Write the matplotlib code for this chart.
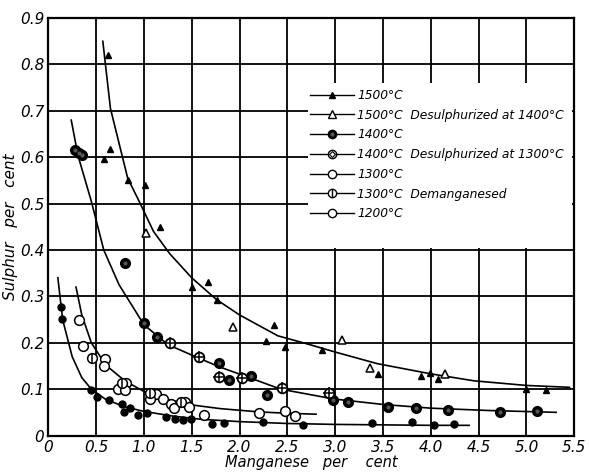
import matplotlib
matplotlib.use("Agg")
import matplotlib.pyplot as plt
from matplotlib.legend_handler import HandlerTuple
from matplotlib.patches import Rectangle

# ---- tick labels ----
x_ticks = [0, 0.5, 1.0, 1.5, 2.0, 2.5, 3.0, 3.5, 4.0, 4.5, 5.0, 5.5]
x_tick_labels = ["0", "0.5", "1.0", "1.5", "2.0", "2.5", "3.0", "3.5", "4.0", "4.5", "5.0", "5.5"]
y_ticks = [0, 0.1, 0.2, 0.3, 0.4, 0.5, 0.6, 0.7, 0.8, 0.9]
y_tick_labels = ["0", "0.1", "0.2", "0.3", "0.4", "0.5", "0.6", "0.7", "0.8", "0.9"]

# ---- data points (Mn %, S %) ----
mn_1500 = [0.62, 0.65, 0.58, 0.83, 1.01, 1.17, 1.50, 1.67, 1.76, 2.36, 2.28, 2.47, 2.86, 3.45, 3.90, 3.99, 4.07, 4.99, 5.20]
s_1500 = [0.82, 0.617, 0.596, 0.55, 0.54, 0.45, 0.321, 0.33, 0.293, 0.238, 0.203, 0.19, 0.185, 0.132, 0.129, 0.134, 0.122, 0.10, 0.099]

mn_1500_des = [1.02, 1.93, 3.07, 3.36, 4.15]
s_1500_des = [0.437, 0.234, 0.206, 0.146, 0.132]

mn_1400 = [0.28, 0.32, 0.35, 0.80, 1.00, 1.135, 1.78, 1.89, 2.12, 2.29, 2.98, 3.13, 3.55, 3.84, 4.18, 4.72, 5.11]
s_1400 = [0.615, 0.61, 0.605, 0.371, 0.242, 0.213, 0.157, 0.12, 0.128, 0.088, 0.077, 0.072, 0.061, 0.06, 0.056, 0.051, 0.053]

mn_1400_des = [1.27, 1.575, 1.78, 2.03, 2.44, 2.93]
s_1400_des = [0.20, 0.169, 0.126, 0.124, 0.102, 0.092]

mn_1300 = [0.324, 0.368, 0.595, 0.578, 0.73, 0.81, 0.807, 1.125, 1.06, 1.20, 1.287, 1.31, 1.43, 1.47, 1.625, 2.20, 2.47, 2.58]
s_1300 = [0.25, 0.194, 0.166, 0.15, 0.101, 0.113, 0.099, 0.089, 0.078, 0.078, 0.069, 0.059, 0.072, 0.062, 0.045, 0.049, 0.052, 0.042]

mn_1300_dem = [0.46, 0.766, 1.068, 1.39]
s_1300_dem = [0.168, 0.113, 0.091, 0.072]

mn_1200 = [0.128, 0.145, 0.443, 0.51, 0.635, 0.77, 0.855, 0.787, 0.94, 1.034, 1.236, 1.33, 1.405, 1.49, 1.71, 1.84, 2.25, 2.66, 3.39, 3.80, 4.03, 4.24]
s_1200 = [0.278, 0.252, 0.099, 0.083, 0.076, 0.069, 0.059, 0.051, 0.044, 0.049, 0.041, 0.035, 0.034, 0.036, 0.024, 0.026, 0.03, 0.022, 0.026, 0.03, 0.022, 0.024]

# ---- hand-drawn curves, points ----
curve_1500_x = [0.57, 0.65, 0.77, 0.83, 0.95, 1.10, 1.27, 1.50, 1.76, 2.00, 2.40, 2.70, 3.00, 3.44, 4.00, 4.45, 5.00, 5.45]
curve_1500_y = [0.85, 0.705, 0.605, 0.555, 0.505, 0.44, 0.392, 0.34, 0.293, 0.26, 0.215, 0.198, 0.18, 0.155, 0.133, 0.118, 0.108, 0.104]

curve_1400_x = [0.24, 0.31, 0.45, 0.58, 0.74, 1.00, 1.25, 1.55, 1.79, 2.10, 2.43, 2.98, 3.50, 4.00, 4.60, 5.31]
curve_1400_y = [0.68, 0.604, 0.505, 0.40, 0.325, 0.239, 0.196, 0.169, 0.148, 0.125, 0.10, 0.079, 0.067, 0.059, 0.054, 0.05]

curve_1300_x = [0.29, 0.35, 0.45, 0.60, 0.80, 1.00, 1.25, 1.50, 1.80, 2.20, 2.50, 2.80]
curve_1300_y = [0.32, 0.26, 0.20, 0.152, 0.118, 0.095, 0.078, 0.066, 0.058, 0.051, 0.048, 0.046]

curve_1200_x = [0.10, 0.15, 0.25, 0.35, 0.45, 0.60, 0.80, 1.00, 1.30, 1.60, 2.00, 2.50, 3.00, 3.50, 4.00, 4.40]
curve_1200_y = [0.34, 0.25, 0.17, 0.125, 0.10, 0.078, 0.062, 0.052, 0.042, 0.035, 0.03, 0.026, 0.024, 0.023, 0.022, 0.022]

legend_labels = ["1500\u00b0C", "1500\u00b0C  Desulphurized at 1400\u00b0C", "1400\u00b0C",
                 "1400\u00b0C  Desulphurized at 1300\u00b0C", "1300\u00b0C", "1300\u00b0C  Demanganesed", "1200\u00b0C"]

plt.rcParams["font.family"] = ["DejaVu Sans"]

fig = plt.figure(figsize=(5.89, 4.76), dpi=100)
ax = fig.add_axes([0.082, 0.085, 0.893, 0.877])

ax.set_xlim(0, 5.5)
ax.set_ylim(0, 0.9)
ax.set_xticks(x_ticks)
ax.set_xticklabels(x_tick_labels, fontstyle="italic", fontsize=11)
ax.set_yticks(y_ticks)
ax.set_yticklabels(y_tick_labels, fontstyle="italic", fontsize=11)
ax.tick_params(length=0, pad=3)
ax.grid(True, color="black", linewidth=1.3, zorder=0)
ax.set_axisbelow(True)
for sp in ax.spines.values():
    sp.set_linewidth(1.6)

# white area behind the legend (gridlines hidden there)
ax.add_patch(Rectangle((2.72, 0.405), 2.76, 0.355, facecolor="white", edgecolor="none", zorder=1))

lw = 1.2
for cx, cy in [(curve_1500_x, curve_1500_y), (curve_1400_x, curve_1400_y),
               (curve_1300_x, curve_1300_y), (curve_1200_x, curve_1200_y)]:
    ax.plot(cx, cy, color="black", linewidth=lw, zorder=3)

ax.plot(mn_1500, s_1500, linestyle="none", marker="^", markersize=5, color="black", zorder=4)
ax.plot(mn_1500_des, s_1500_des, linestyle="none", marker="^", markersize=6,
        markerfacecolor="white", markeredgecolor="black", markeredgewidth=1.1, zorder=4)
ax.plot(mn_1400, s_1400, linestyle="none", marker="o", markersize=7, color="black", zorder=4)
ax.plot(mn_1400, s_1400, linestyle="none", marker="o", markersize=2, color="#555555", zorder=5)
ax.plot(mn_1400_des, s_1400_des, linestyle="none", marker="o", markersize=7,
        markerfacecolor="white", markeredgecolor="black", markeredgewidth=1.3, zorder=4)
ax.plot(mn_1400_des, s_1400_des, linestyle="none", marker="+", markersize=9,
        color="black", markeredgewidth=1.1, zorder=5)
ax.plot(mn_1300, s_1300, linestyle="none", marker="o", markersize=7,
        markerfacecolor="white", markeredgecolor="black", markeredgewidth=1.1, zorder=4)
ax.plot(mn_1300_dem, s_1300_dem, linestyle="none", marker="o", markersize=7,
        markerfacecolor="white", markeredgecolor="black", markeredgewidth=1.1, zorder=4)
ax.plot(mn_1300_dem, s_1300_dem, linestyle="none", marker="|", markersize=7,
        color="black", markeredgewidth=1.1, zorder=5)
ax.plot(mn_1200, s_1200, linestyle="none", marker="o", markersize=5, color="black", zorder=4)

# legend proxies (marker on a short line)
def proxy(**kw):
    return ax.plot([], [], color="black", linewidth=1.0, **kw)[0]

p1500 = proxy(marker="^", markersize=5)
p1500d = proxy(marker="^", markersize=6, markerfacecolor="white", markeredgecolor="black")
p1400a = proxy(marker="o", markersize=6)
p1400b = ax.plot([], [], linestyle="none", marker="o", markersize=2, color="#555555")[0]
p1400da = proxy(marker="o", markersize=6, markerfacecolor="white", markeredgecolor="black")
p1400db = ax.plot([], [], linestyle="none", marker="D", markersize=3, markerfacecolor="white",
                  markeredgecolor="black", markeredgewidth=0.8)[0]
p1300 = proxy(marker="o", markersize=6, markerfacecolor="white", markeredgecolor="black")
p1300da = proxy(marker="o", markersize=6, markerfacecolor="white", markeredgecolor="black")
p1300db = ax.plot([], [], linestyle="none", marker="|", markersize=6, color="black")[0]
p1200 = proxy(marker="o", markersize=6, markerfacecolor="white", markeredgecolor="black")

handles = [p1500, p1500d, (p1400a, p1400b), (p1400da, p1400db), p1300, (p1300da, p1300db), p1200]
leg = ax.legend(handles, legend_labels, loc="upper left", bbox_to_anchor=(0.497, 0.83),
                handler_map={tuple: HandlerTuple(ndivide=1)},
                frameon=False, handlelength=3.6, handletextpad=0.3, labelspacing=0.55,
                borderpad=0.0, borderaxespad=0.0,
                prop={"style": "italic", "size": 8.8})
leg.set_zorder(6)

ax.set_ylabel("Sulphur   per   cent", fontstyle="italic", fontsize=11, labelpad=1)
ax.set_xlabel("Manganese   per    cent", fontstyle="italic", fontsize=10.5, labelpad=0)

fig.savefig("out.png", dpi=100)
